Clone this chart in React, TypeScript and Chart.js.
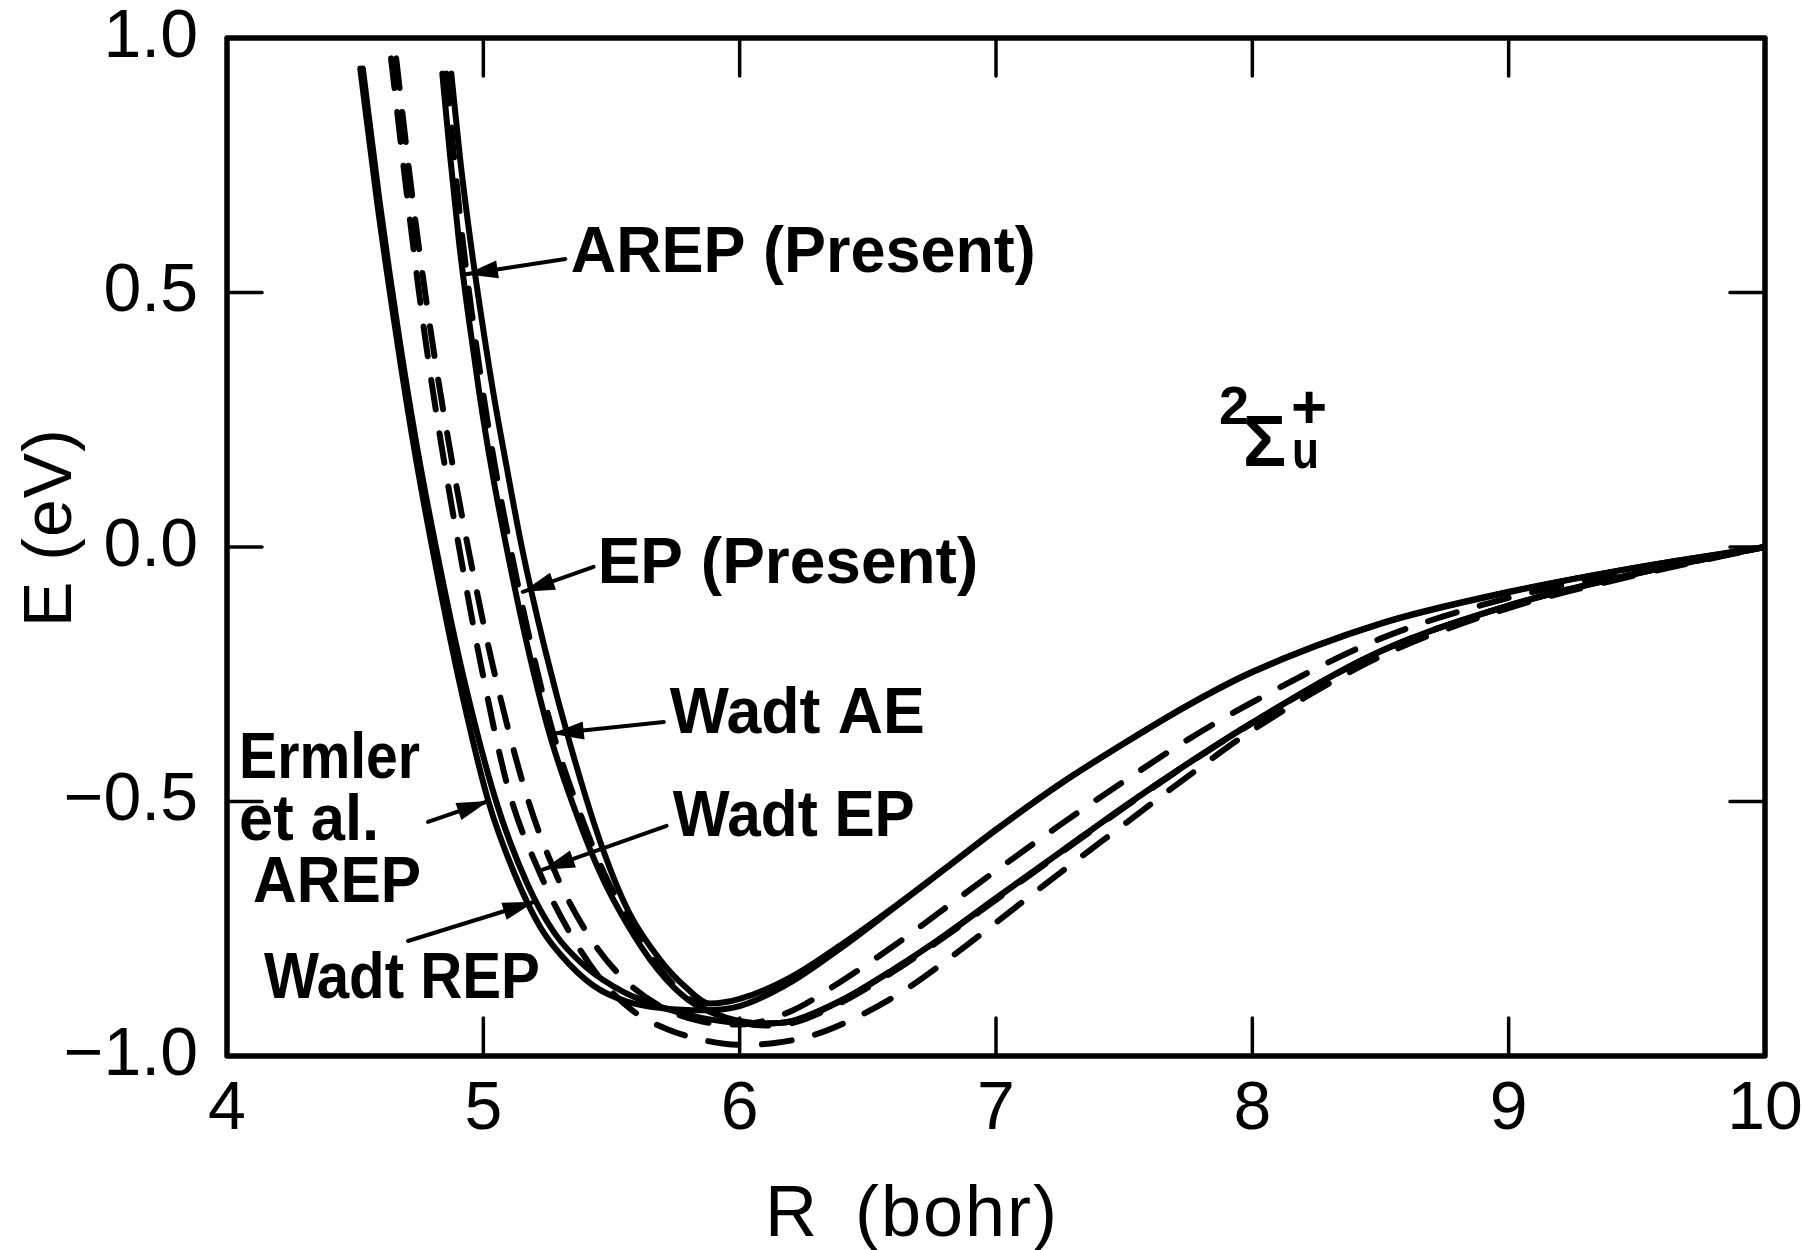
import React, { useEffect, useRef } from "react";
import { Chart, registerables } from "chart.js";

Chart.register(...registerables);

// ---------- data ----------
const X_TICKS = [4, 5, 6, 7, 8, 9, 10];
const Y_TICKS = [-1, -0.5, 0, 0.5, 1];

// Ermler et al. AREP (solid)
const ermlerR = [4.52, 4.585, 4.662, 4.728, 4.8, 4.9, 5.02, 5.12, 5.22, 5.3, 5.43, 5.56, 5.7, 5.86, 6.0, 6.2, 6.4, 6.6, 6.8, 7.0, 7.25, 7.5, 7.75, 8.0, 8.5, 9.0, 9.5, 10.0];
const ermlerE = [0.94, 0.68, 0.41, 0.2, 0.0, -0.25, -0.5, -0.64, -0.745, -0.8, -0.862, -0.893, -0.906, -0.91, -0.902, -0.855, -0.786, -0.71, -0.633, -0.556, -0.466, -0.386, -0.311, -0.246, -0.151, -0.089, -0.04, 0.0];

// Wadt REP (solid)
const wadtRepR = [4.53, 4.595, 4.672, 4.74, 4.815, 4.92, 5.05, 5.17, 5.28, 5.4, 5.55, 5.7, 5.85, 6.0, 6.1, 6.2, 6.4, 6.6, 6.8, 7.0, 7.25, 7.5, 7.75, 8.0, 8.5, 9.0, 9.5, 10.0];
const wadtRepE = [0.94, 0.68, 0.41, 0.2, 0.0, -0.25, -0.5, -0.66, -0.76, -0.825, -0.875, -0.905, -0.925, -0.935, -0.936, -0.932, -0.89, -0.83, -0.763, -0.69, -0.6, -0.51, -0.425, -0.345, -0.205, -0.115, -0.052, 0.0];

// dashed curve, left of the dashed pair
const dashAR = [4.64, 4.7, 4.765, 4.83, 4.905, 4.99, 5.1, 5.22, 5.34, 5.46, 5.58, 5.72, 5.87, 6.0, 6.13, 6.3, 6.46, 6.64, 6.8, 7.0, 7.25, 7.5, 7.75, 8.0, 8.5, 9.0, 9.5, 10.0];
const dashAE = [0.96, 0.7, 0.44, 0.22, 0.0, -0.23, -0.48, -0.64, -0.76, -0.85, -0.91, -0.948, -0.97, -0.978, -0.975, -0.957, -0.923, -0.872, -0.815, -0.738, -0.64, -0.545, -0.45, -0.36, -0.215, -0.12, -0.055, 0.0];

// Wadt EP (dashed), right of the dashed pair
const wadtEpR = [4.66, 4.72, 4.79, 4.86, 4.94, 5.04, 5.17, 5.29, 5.42, 5.55, 5.7, 5.85, 6.0, 6.2, 6.4, 6.6, 6.8, 7.0, 7.25, 7.5, 7.75, 8.0, 8.5, 9.0, 9.5, 10.0];
const wadtEpE = [0.96, 0.7, 0.44, 0.22, 0.0, -0.24, -0.49, -0.65, -0.77, -0.85, -0.905, -0.932, -0.938, -0.912, -0.852, -0.784, -0.71, -0.636, -0.546, -0.46, -0.378, -0.305, -0.18, -0.1, -0.047, 0.0];

// AREP (Present) (solid)
const arepR = [4.84, 4.87, 4.905, 4.94, 4.985, 5.03, 5.09, 5.17, 5.26, 5.36, 5.46, 5.56, 5.68, 5.8, 5.95, 6.1, 6.2, 6.4, 6.6, 6.8, 7.0, 7.25, 7.5, 7.75, 8.0, 8.5, 9.0, 9.5, 10.0];
const arepE = [0.93, 0.77, 0.6, 0.46, 0.3, 0.16, 0.0, -0.19, -0.37, -0.52, -0.645, -0.74, -0.83, -0.89, -0.925, -0.936, -0.932, -0.89, -0.83, -0.763, -0.69, -0.6, -0.51, -0.425, -0.345, -0.205, -0.115, -0.052, 0.0];

// EP (Present) (dashed)
const epR = [4.855, 4.885, 4.92, 4.955, 5.0, 5.045, 5.105, 5.185, 5.275, 5.375, 5.475, 5.575, 5.69, 5.81, 5.96, 6.1, 6.2, 6.4, 6.6, 6.8, 7.0, 7.25, 7.5, 7.75, 8.0, 8.5, 9.0, 9.5, 10.0];
const epE = [0.93, 0.77, 0.6, 0.46, 0.3, 0.16, 0.0, -0.19, -0.37, -0.52, -0.645, -0.74, -0.83, -0.89, -0.928, -0.94, -0.936, -0.894, -0.834, -0.766, -0.693, -0.602, -0.512, -0.426, -0.346, -0.205, -0.115, -0.052, 0.0];

// Wadt AE (solid)
const wadtAeR = [4.875, 4.91, 4.95, 4.99, 5.04, 5.09, 5.15, 5.24, 5.34, 5.467, 5.57, 5.688, 5.79, 5.883, 6.0, 6.2, 6.4, 6.6, 6.8, 7.0, 7.25, 7.5, 7.75, 8.0, 8.5, 9.0, 9.5, 10.0];
const wadtAeE = [0.93, 0.76, 0.6, 0.46, 0.3, 0.16, 0.0, -0.2, -0.39, -0.595, -0.72, -0.81, -0.865, -0.897, -0.888, -0.845, -0.78, -0.708, -0.632, -0.555, -0.465, -0.385, -0.31, -0.245, -0.15, -0.088, -0.04, 0.0];

const SERIES = [
  { name: "Ermler et al. AREP", r: ermlerR, e: ermlerE, dashed: false },
  { name: "Wadt REP", r: wadtRepR, e: wadtRepE, dashed: false },
  { name: "dashed", r: dashAR, e: dashAE, dashed: true },
  { name: "Wadt EP", r: wadtEpR, e: wadtEpE, dashed: true },
  { name: "AREP (Present)", r: arepR, e: arepE, dashed: false },
  { name: "EP (Present)", r: epR, e: epE, dashed: true },
  { name: "Wadt AE", r: wadtAeR, e: wadtAeE, dashed: false },
];

// ---------- annotations (data coordinates) ----------
const FONT = '"Liberation Sans", Arial, sans-serif';
const ANNOTS = [
  { lines: ["AREP (Present)"], widths: [465], tx: 5.341, ty: 0.574, from: [5.32, 0.566], to: [4.932, 0.536] },
  { lines: ["EP (Present)"], widths: [385], tx: 5.446, ty: -0.037, from: [5.43, -0.039], to: [5.154, -0.088] },
  { lines: ["Wadt AE"], widths: [255], tx: 5.727, ty: -0.33, from: [5.704, -0.344], to: [5.267, -0.367] },
  { lines: ["Wadt EP"], widths: [242], tx: 5.739, ty: -0.534, from: [5.715, -0.548], to: [5.232, -0.634] },
  { lines: ["Ermler", "et al.", "AREP"], widths: [181, 140, 168], tx: 4.047, ty: -0.42, from: [4.784, -0.54], to: [5.021, -0.499] },
  { lines: ["Wadt REP"], widths: [276], tx: 4.144, ty: -0.851, from: [4.706, -0.774], to: [5.2, -0.697] },
];

const zeroPad = (s: any) => {
  s.paddingTop = 0;
  s.paddingBottom = 0;
  s.paddingLeft = 0;
  s.paddingRight = 0;
};

const decorPlugin = {
  id: "decor",
  afterDraw(chart: any) {
    const { ctx, chartArea: a } = chart;
    const xs = chart.scales.x;
    const ys = chart.scales.y;
    const line = (x1: number, y1: number, x2: number, y2: number) => {
      ctx.beginPath();
      ctx.moveTo(x1, y1);
      ctx.lineTo(x2, y2);
      ctx.stroke();
    };
    ctx.save();
    ctx.strokeStyle = "#000";
    ctx.fillStyle = "#000";
    // frame
    ctx.lineWidth = 5.5;
    ctx.lineJoin = "round";
    ctx.strokeRect(a.left, a.top, a.right - a.left, a.bottom - a.top);
    // inward ticks
    ctx.lineWidth = 3.5;
    ctx.lineCap = "round";
    X_TICKS.slice(1, -1).forEach((v) => {
      const p = xs.getPixelForValue(v);
      line(p, a.bottom, p, a.bottom - 38);
      line(p, a.top, p, a.top + 38);
    });
    Y_TICKS.slice(1, -1).forEach((v) => {
      const p = ys.getPixelForValue(v);
      line(a.left, p, a.left + 35, p);
      line(a.right, p, a.right - 35, p);
    });

    // annotations
    ctx.font = `bold 64px ${FONT}`;
    ctx.textAlign = "left";
    ctx.textBaseline = "middle";
    ANNOTS.forEach((an) => {
      const tx = xs.getPixelForValue(an.tx);
      const ty = ys.getPixelForValue(an.ty);
      an.lines.forEach((t, i) => ctx.fillText(t, tx + (i === 2 ? 14 : 0), ty + i * 62, an.widths[i]));
      const x1 = xs.getPixelForValue(an.from[0]);
      const y1 = ys.getPixelForValue(an.from[1]);
      const x2 = xs.getPixelForValue(an.to[0]);
      const y2 = ys.getPixelForValue(an.to[1]);
      ctx.lineWidth = 4;
      line(x1, y1, x2, y2);
      const ang = Math.atan2(y2 - y1, x2 - x1);
      const L = 32, W = 9;
      const bx = x2 - L * Math.cos(ang);
      const by = y2 - L * Math.sin(ang);
      ctx.beginPath();
      ctx.moveTo(x2, y2);
      ctx.lineTo(bx + W * Math.sin(ang), by - W * Math.cos(ang));
      ctx.lineTo(bx - W * Math.sin(ang), by + W * Math.cos(ang));
      ctx.closePath();
      ctx.fill();
    });

    // term symbol 2Σu+
    ctx.textBaseline = "alphabetic";
    ctx.font = `bold 54px ${FONT}`;
    ctx.fillText("2", 1219, 424);
    ctx.font = `bold 72px ${FONT}`;
    ctx.fillText("Σ", 1243, 466);
    ctx.font = `bold 62px ${FONT}`;
    ctx.fillText("+", 1291, 428);
    ctx.font = `bold 54px ${FONT}`;
    ctx.fillText("u", 1292, 468, 27);

    // axis titles
    ctx.font = `72px ${FONT}`;
    (ctx as any).letterSpacing = "0px";
    ctx.fillText("R", 765, 1236);
    (ctx as any).letterSpacing = "2px";
    ctx.fillText("(bohr)", 855, 1236);
    ctx.save();
    ctx.translate(71, 627);
    ctx.rotate(-Math.PI / 2);
    ctx.font = `68px ${FONT}`;
    (ctx as any).letterSpacing = "1px";
    ctx.fillText("E (eV)", 0, 0);
    ctx.restore();
    (ctx as any).letterSpacing = "0px";
    ctx.restore();
  },
};

export default function App() {
  const ref = useRef<HTMLCanvasElement>(null);
  useEffect(() => {
    if (!ref.current) return;
    const datasets = SERIES.map((s) => ({
      label: s.name,
      data: s.r.map((r, i) => ({ x: r, y: s.e[i] })),
      borderColor: "#000",
      borderWidth: 6,
      borderDash: s.dashed ? [30, 24] : [],
      borderCapStyle: "round" as const,
      borderJoinStyle: "round" as const,
      pointRadius: 0,
      fill: false,
      cubicInterpolationMode: "monotone" as const,
    }));
    const chart = new Chart(ref.current, {
      type: "line",
      data: { datasets },
      options: {
        animation: false,
        responsive: false,
        devicePixelRatio: 1,
        layout: { padding: { top: 38, right: 38, left: 0, bottom: 0 } },
        plugins: { legend: { display: false }, tooltip: { enabled: false } },
        scales: {
          x: {
            type: "linear",
            min: 4,
            max: 10,
            grid: { display: false, drawTicks: false },
            border: { display: false },
            afterBuildTicks: (s: any) => {
              s.ticks = X_TICKS.map((v) => ({ value: v }));
            },
            afterFit: (s: any) => {
              s.height = 194;
              zeroPad(s);
            },
            ticks: {
              autoSkip: false,
              maxRotation: 0,
              padding: 13,
              color: "#000",
              font: { size: 68, family: FONT },
              callback: (v: any) => String(v),
            },
          },
          y: {
            type: "linear",
            min: -1,
            max: 1,
            grid: { display: false, drawTicks: false },
            border: { display: false },
            afterBuildTicks: (s: any) => {
              s.ticks = Y_TICKS.map((v) => ({ value: v }));
            },
            afterFit: (s: any) => {
              s.width = 227;
              zeroPad(s);
            },
            ticks: {
              padding: 29,
              color: "#000",
              font: { size: 68, family: FONT },
              callback: (v: any) => (Number(v) < 0 ? "−" : "") + Math.abs(Number(v)).toFixed(1),
            },
          },
        },
      },
      plugins: [decorPlugin],
    });
    return () => chart.destroy();
  }, []);
  return (
    <div style={{ position: "fixed", left: 0, top: 0, width: 1803, height: 1250, background: "#fff" }}>
      <canvas ref={ref} width={1803} height={1250} style={{ display: "block" }} />
    </div>
  );
}
